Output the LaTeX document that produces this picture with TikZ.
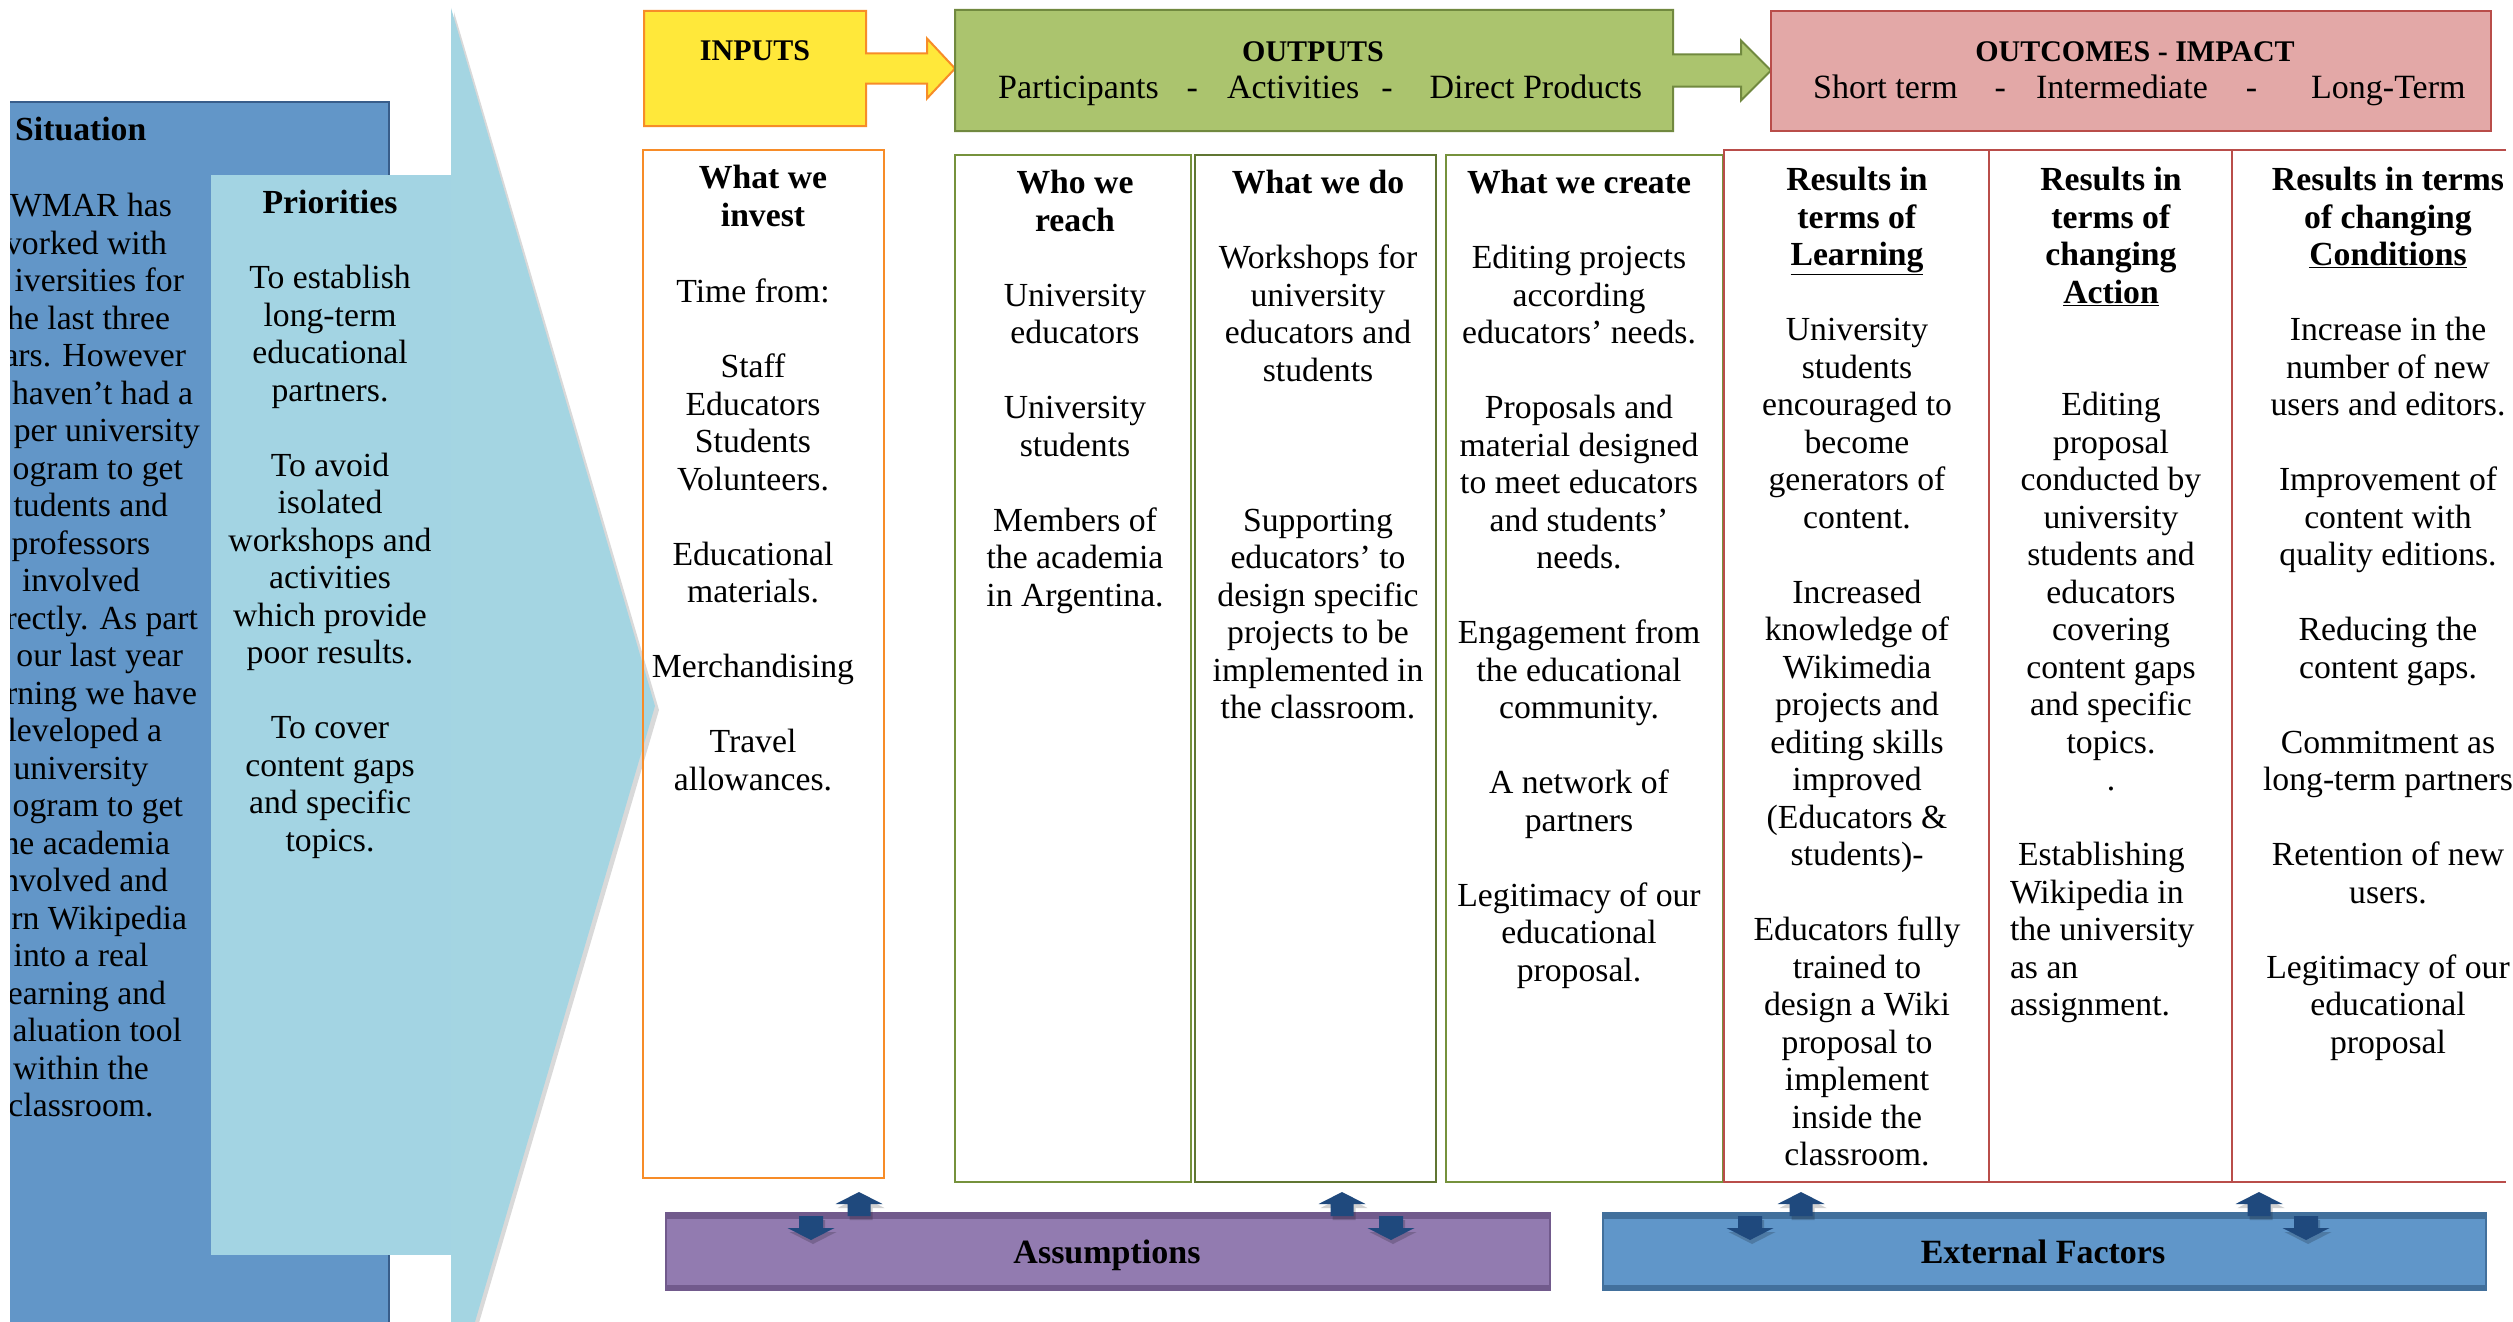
\documentclass[tikz,border=0pt]{standalone}
\usepackage{fontspec}
\setmainfont{Liberation Serif}
\usetikzlibrary{calc}
\definecolor{sitblue}{RGB}{98,150,200}
\definecolor{sitborder}{RGB}{56,93,138}
\definecolor{prio}{RGB}{163,212,227}
\definecolor{tri}{RGB}{164,213,226}
\definecolor{inyel}{RGB}{255,232,58}
\definecolor{inorange}{RGB}{247,140,40}
\definecolor{outgreen}{RGB}{171,196,110}
\definecolor{outgreenb}{RGB}{113,137,63}
\definecolor{colgreen}{RGB}{118,146,60}
\definecolor{colgreend}{RGB}{96,118,50}
\definecolor{outred}{RGB}{227,168,167}
\definecolor{outredb}{RGB}{185,77,74}
\definecolor{purp}{RGB}{146,123,176}
\definecolor{purpb}{RGB}{113,90,140}
\definecolor{extb}{RGB}{96,150,201}
\definecolor{extbb}{RGB}{66,112,156}
\definecolor{navy}{RGB}{31,73,125}
\newcommand\rt[2]{\makebox[#1pt][r]{#2}}
\newcommand\lf[2]{\makebox[#1pt][l]{#2}}
\tikzset{
  upblk/.pic={
    \fill[black,opacity=.18] (2,4) -- (25.5,16) -- (13.5,16) -- (13.5,28) -- (-9.5,28) -- (-9.5,16) -- (-21.5,16) -- cycle;
    \fill[navy] (0,0) -- (23.5,12) -- (11.5,12) -- (11.5,24) -- (-11.5,24) -- (-11.5,12) -- (-23.5,12) -- cycle;
  },
  downblk/.pic={
    \fill[black,opacity=.18] (-10,4) -- (14,4) -- (14,16) -- (25.5,16) -- (2,28) -- (-21.5,16) -- (-10,16) -- cycle;
    \fill[navy] (-12,0) -- (12,0) -- (12,12) -- (23.5,12) -- (0,24) -- (-23.5,12) -- (-12,12) -- cycle;
  },
}
\begin{document}
\begin{tikzpicture}[x=1pt,y=-1pt,
  bodytxt/.style={font=\fontsize{33.7}{37.5}\selectfont, align=center, inner sep=0pt, anchor=north},
  headtxt/.style={font=\fontsize{30}{34}\selectfont\bfseries, inner sep=0pt, anchor=base},
  subtxt/.style={font=\fontsize{34}{38}\selectfont, inner sep=0pt, anchor=base west},
  boxtxt/.style={font=\fontsize{34}{38}\selectfont\bfseries, inner sep=0pt, anchor=base},
  hdrbox/.style={rectangle, inner sep=0pt, outer sep=0pt},
  incol/.style={draw=inorange, line width=2.5pt},
  gcol/.style={draw=colgreen, line width=2pt},
  rcol/.style={draw=outredb, line width=2pt},
]
\useasboundingbox (0,0) rectangle (2513,1322);
\clip (0,0) rectangle (2513,1322);
\fill[white] (0,0) rectangle (2513,1322);

% Situation
\fill[sitblue] (10,102) rectangle (389,1330);
\draw[sitborder, line width=2.5pt] (10,102) -- (389,102) -- (389,1330);
\node[font=\fontsize{33.7}{37.5}\selectfont\bfseries, anchor=base west, inner sep=0pt] (sittitle) at (15,140) {Situation};
\begin{scope}
\clip (10,0) rectangle (389,1322);
\node[bodytxt] (sit) at (81,193) {\rt{182}{WMAR has}\\
\rt{172}{vorked with}\\
\rt{206}{iversities for}\\
\rt{178}{he last three}\\
\rt{210}{ars. However}\\
\rt{224}{haven’t had a}\\
\rt{238}{per university}\\
\rt{204}{ogram to get}\\
\rt{174}{tudents and}\\
professors\\
involved\\
\rt{234}{rectly. As part}\\
\rt{204}{our last year}\\
\rt{232}{rning we have}\\
\rt{162}{leveloped a}\\
university\\
\rt{204}{ogram to get}\\
\rt{178}{he academia}\\
\rt{174}{nvolved and}\\
\rt{212}{rn Wikipedia}\\
into a real\\
\rt{170}{earning and}\\
\rt{202}{aluation tool}\\
within the\\
classroom.};
\end{scope}

% Priorities
\fill[prio] (211,175) rectangle (451,1255);
\node[bodytxt] (prior) at (330,190) {\textbf{Priorities}\\[37.5pt]
To establish\\long-term\\educational\\partners.\\[37.5pt]
To avoid\\isolated\\workshops and\\activities\\which provide\\poor results.\\[37.5pt]
To cover\\content gaps\\and specific\\topics.};

% big triangle
\fill[black,opacity=.15] (454,12) -- (659,710) -- (454,1408) -- cycle;
\fill[tri] (451,8) -- (655,706) -- (451,1404) -- cycle;

% header boxes
\node[hdrbox, minimum width=222pt, minimum height=115pt] (inputs) at (755,68.5) {};
\node[hdrbox, minimum width=718pt, minimum height=121pt] (outputs) at (1314,70.5) {};
\node[hdrbox, minimum width=720pt, minimum height=120pt] (outcomes) at (2131,71) {};
\filldraw[fill=inyel, draw=inorange, line width=2pt]
  (inputs.north west) -- (inputs.north east) -- ($(inputs.east)+(0,-15)$)
  -- ($(outputs.west|-inputs.east)+(-28,-15)$) -- ++(0,-15)
  -- (outputs.west|-inputs.east) -- ++(-28,30) -- ++(0,-15)
  -- ($(inputs.east)+(0,15)$) -- (inputs.south east) -- (inputs.south west) -- cycle;
\filldraw[fill=outgreen, draw=outgreenb, line width=2pt]
  (outputs.north west) -- (outputs.north east) -- ($(outputs.east)+(0,-16)$)
  -- ($(outcomes.west|-outputs.east)+(-30,-16)$) -- ++(0,-14)
  -- (outcomes.west|-outputs.east) -- ++(-30,30) -- ++(0,-14)
  -- ($(outputs.east)+(0,16)$) -- (outputs.south east) -- (outputs.south west) -- cycle;
\filldraw[fill=outred, draw=outredb, line width=2pt] (outcomes.north west) rectangle (outcomes.south east);

\node[headtxt] (tin) at (755,60) {INPUTS};
\node[headtxt] (tout) at (1313,62) {OUTPUTS};
\node[subtxt] (sout) at (998,99) {Participants\hspace{28pt}-\hspace{29pt}Activities\hspace{22pt}-\hspace{37pt}Direct Products};
\node[headtxt] (tcome) at (2135,62) {OUTCOMES - IMPACT};
\node[subtxt] (scome) at (1813,99) {Short term\hspace{37pt}-\hspace{30pt}Intermediate\hspace{38pt}-\hspace{54pt}Long-Term};

% columns
\draw[incol] (643,150) rectangle (884,1178);
\draw[gcol] (955,155) rectangle (1191,1182);
\draw[gcol, draw=colgreend, line width=2.5pt] (1195,155) rectangle (1436,1182);
\draw[gcol] (1446,155) rectangle (1723,1182);
\draw[rcol] (2506,150) -- (1724,150) -- (1724,1182) -- (2506,1182);
\draw[rcol] (1989,150) -- (1989,1182);
\draw[rcol] (2232,150) -- (2232,1182);

% column texts
\node[bodytxt] (inhead) at (763,165) {\textbf{What we}\\\textbf{invest}};
\node[bodytxt] (inbody) at (753,279) {Time from:\\[37.5pt]Staff\\Educators\\Students\\Volunteers.\\[37.5pt]Educational\\materials.\\[37.5pt]Merchandising\\[37.5pt]Travel\\allowances.};
\node[bodytxt] (who) at (1075,170) {\textbf{Who we}\\\textbf{reach}\\[37.5pt]University\\educators\\[37.5pt]University\\students\\[37.5pt]Members of\\the academia\\in Argentina.};
\node[bodytxt] (do) at (1318,170) {\textbf{What we do}\\[37.5pt]Workshops for\\university\\educators and\\students\\[112.5pt]Supporting\\educators’ to\\design specific\\projects to be\\implemented in\\the classroom.};
\node[bodytxt] (create) at (1579,170) {\textbf{What we create}\\[37.5pt]Editing projects\\according\\educators’ needs.\\[37.5pt]Proposals and\\material designed\\to meet educators\\and students’\\needs.\\[37.5pt]Engagement from\\the educational\\community.\\[37.5pt]A network of\\partners\\[37.5pt]Legitimacy of our\\educational\\proposal.};
\node[bodytxt] (learn) at (1857,167) {\textbf{Results in}\\\textbf{terms of}\\\textbf{\underline{Learning}}\\[37.5pt]University\\students\\encouraged to\\become\\generators of\\content.\\[37.5pt]Increased\\knowledge of\\Wikimedia\\projects and\\editing skills\\improved\\(Educators \&\\students)-\\[37.5pt]Educators fully\\trained to\\design a Wiki\\proposal to\\implement\\inside the\\classroom.};
\node[bodytxt] (action) at (2111,167) {\textbf{Results in}\\\textbf{terms of}\\\textbf{changing}\\\textbf{\underline{Action}}\\[75pt]Editing\\proposal\\conducted by\\university\\students and\\educators\\covering\\content gaps\\and specific\\topics.\\.\\[37.5pt]\lf{202}{\hspace*{8pt}Establishing}\\\lf{202}{Wikipedia in}\\\lf{202}{the university}\\\lf{202}{as an}\\\lf{202}{assignment.}};
\node[bodytxt] (cond) at (2388,167) {\textbf{Results in terms}\\\textbf{of changing}\\\textbf{\underline{Conditions}}\\[37.5pt]Increase in the\\number of new\\users and editors.\\[37.5pt]Improvement of\\content with\\quality editions.\\[37.5pt]Reducing the\\content gaps.\\[37.5pt]Commitment as\\long-term partners\\[37.5pt]Retention of new\\users.\\[37.5pt]Legitimacy of our\\educational\\proposal};

% bottom boxes
\node[hdrbox, minimum width=884pt, minimum height=77pt] (assump) at (1108,1251.5) {};
\node[hdrbox, minimum width=883pt, minimum height=77pt] (extf) at (2044.5,1251.5) {};
\fill[purp] (assump.north west) rectangle (assump.south east);
\fill[purpb] (assump.north west) rectangle ($(assump.north east)+(0,6)$);
\fill[purpb] ($(assump.south west)+(0,-5)$) rectangle (assump.south east);
\draw[purpb, line width=1.5pt] (assump.north west) rectangle (assump.south east);
\fill[extb] (extf.north west) rectangle (extf.south east);
\fill[extbb] (extf.north west) rectangle ($(extf.north east)+(0,6)$);
\fill[extbb] ($(extf.south west)+(0,-5)$) rectangle (extf.south east);
\draw[extbb, line width=1.5pt] (extf.north west) rectangle (extf.south east);
\node[boxtxt] (assumpt) at (1107,1263) {Assumptions};
\node[boxtxt] (extft) at (2043,1263) {External Factors};

% block arrows
\pic at (811,1216) {downblk};
\pic at (859,1192) {upblk};
\pic at (1342,1192) {upblk};
\pic at (1391,1216) {downblk};
\pic at (1750,1216) {downblk};
\pic at (1801,1192) {upblk};
\pic at (2259,1192) {upblk};
\pic at (2306,1216) {downblk};
\end{tikzpicture}
\end{document}
